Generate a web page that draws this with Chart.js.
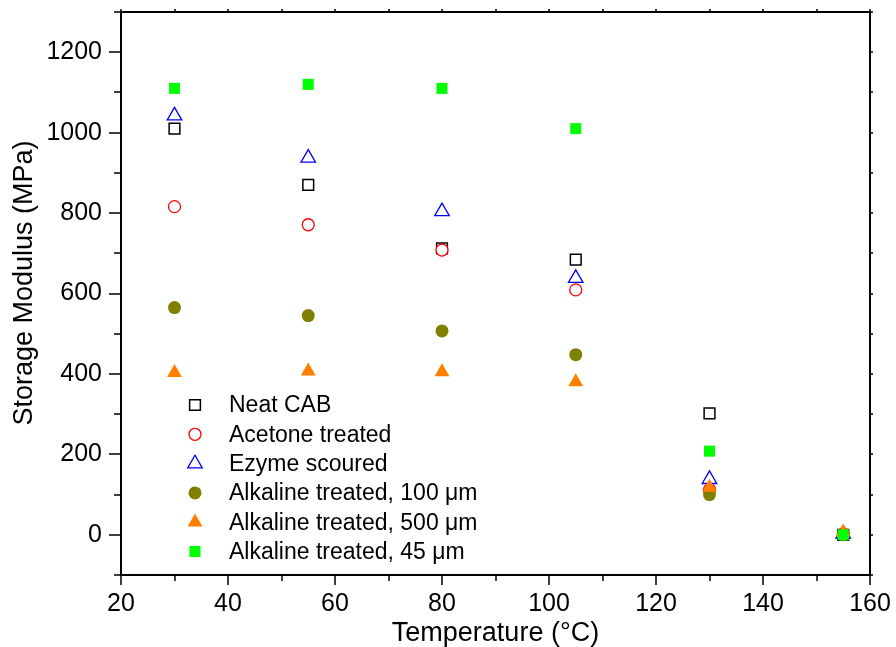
<!DOCTYPE html>
<html lang="en">
<head>
<meta charset="UTF-8">
<title>Storage Modulus vs Temperature</title>
<script src="https://cdn.jsdelivr.net/npm/chart.js@4"></script>
<style>
  html, body { margin:0; padding:0; background:#fff; }
  #wrap { width:896px; height:647px; position:relative; }
</style>
</head>
<body>
<div id="wrap"><canvas id="chart"></canvas></div>
<script>
// values
const temperatures   = [30, 55, 80, 105, 130, 155];
const neatCAB        = [1010, 870, 712, 684, 302, 0];
const acetoneTreated = [816, 771, 708, 609, 112, 2];
const ezymeScoured   = [1042, 937, 804, 638, 138, 2];
const alkaline100    = [565, 545, 507, 448, 100, 0];
const alkaline500    = [403, 407, 405, 380, 118, 6];
const alkaline45     = [1110, 1120, 1110, 1010, 208, 0];

const seriesNames = [
  'Neat CAB', 'Acetone treated', 'Ezyme scoured',
  'Alkaline treated, 100 \u03BCm', 'Alkaline treated, 500 \u03BCm', 'Alkaline treated, 45 \u03BCm'
];
const xTicks = [20, 40, 60, 80, 100, 120, 140, 160];
const yTicks = [0, 200, 400, 600, 800, 1000, 1200];

const FONT = '"Liberation Sans", Arial, sans-serif';

// marker styles per series (Origin-like)
const styles = [
  { pointStyle: 'rect',     color: '#000000', fill: '#ffffff', radius: 7.6, bw: 1.5 },
  { pointStyle: 'circle',   color: '#ff0000', fill: '#ffffff', radius: 6.0, bw: 1.3 },
  { pointStyle: 'triangle', color: '#0000ff', fill: '#ffffff', radius: 8.4, bw: 1.3 },
  { pointStyle: 'circle',   color: '#808000', fill: '#808000', radius: 6.5, bw: 0 },
  { pointStyle: 'triangle', color: '#ff8000', fill: '#ff8000', radius: 8.6, bw: 0 },
  { pointStyle: 'rect',     color: '#00ff00', fill: '#00ff00', radius: 7.8, bw: 0 }
];
const seriesValues = [neatCAB, acetoneTreated, ezymeScoured, alkaline100, alkaline500, alkaline45];

const datasets = seriesValues.map((vals, i) => ({
  label: seriesNames[i],
  data: temperatures.map((t, j) => ({ x: t, y: vals[j] })),
  pointStyle: styles[i].pointStyle,
  pointRadius: styles[i].radius,
  pointHoverRadius: styles[i].radius,
  pointBorderWidth: styles[i].bw,
  borderColor: styles[i].color,
  backgroundColor: styles[i].fill,
  pointBackgroundColor: styles[i].fill,
  pointBorderColor: styles[i].color,
  showLine: false,
  order: seriesValues.length - i   // later series drawn on top
}));

// frame, minor ticks, axis titles and in-plot legend
const framePlugin = {
  id: 'frame',
  afterDraw(chart) {
    const { ctx, chartArea: a, scales: { x, y } } = chart;
    ctx.save();
    ctx.strokeStyle = '#000';
    ctx.lineWidth = 2;
    ctx.strokeRect(a.left, a.top, a.right - a.left, a.bottom - a.top);

    ctx.lineWidth = 1.5;
    ctx.beginPath();
    for (let v = 20; v <= 160; v += 10) {
      const px = Math.round(x.getPixelForValue(v));
      const len = v % 20 === 0 ? 10 : 6;
      ctx.moveTo(px, a.bottom); ctx.lineTo(px, a.bottom + len);
      ctx.moveTo(px, a.top); ctx.lineTo(px, a.top - 3);
    }
    for (let v = -100; v <= 1300; v += 100) {
      const py = Math.round(y.getPixelForValue(v));
      const len = v % 200 === 0 ? 12 : 7;
      ctx.moveTo(a.left, py); ctx.lineTo(a.left - len, py);
      ctx.moveTo(a.right, py); ctx.lineTo(a.right + 3, py);
    }
    ctx.stroke();

    // axis titles
    ctx.fillStyle = '#000';
    ctx.font = '27px ' + FONT;
    ctx.textAlign = 'center';
    ctx.textBaseline = 'alphabetic';
    ctx.fillText('Temperature (\u00B0C)', (a.left + a.right) / 2, 641);
    ctx.save();
    ctx.translate(25, 283);
    ctx.rotate(-Math.PI / 2);
    ctx.textBaseline = 'middle';
    ctx.fillText('Storage Modulus (MPa)', 0, 0);
    ctx.restore();

    // legend inside the plot
    ctx.font = '23px ' + FONT;
    ctx.textAlign = 'left';
    ctx.textBaseline = 'middle';
    chart.data.datasets.forEach((ds, i) => {
      const cy = a.top + 393 + i * 29.3;
      const cx = a.left + 74;
      ctx.fillStyle = ds.pointBackgroundColor;
      ctx.strokeStyle = ds.pointBorderColor;
      ctx.lineWidth = ds.pointBorderWidth;
      Chart.helpers.drawPoint(ctx, {
        pointStyle: ds.pointStyle, radius: ds.pointRadius,
        borderWidth: ds.pointBorderWidth, rotation: 0
      }, cx, cy);
      ctx.fillStyle = '#000';
      ctx.fillText(ds.label, a.left + 108, cy + 1);
    });
    ctx.restore();
  }
};

new Chart(document.getElementById('chart'), {
  type: 'scatter',
  data: { datasets },
  options: {
    responsive: true,
    maintainAspectRatio: false,
    animation: false,
    layout: { padding: { top: 12, right: 26, left: 0, bottom: 0 } },
    scales: {
      x: {
        type: 'linear', min: 20, max: 160,
        afterBuildTicks: s => { s.ticks = xTicks.map(v => ({ value: v })); },
        afterFit: s => { s.height = 72; s.paddingLeft = 0; s.paddingRight = 0; },
        grid: { display: false, drawTicks: false },
        border: { display: false },
        ticks: { color: '#000', padding: 14, font: { family: FONT, size: 25 }, callback: v => String(v) }
      },
      y: {
        type: 'linear', min: -100, max: 1300,
        afterBuildTicks: s => { s.ticks = yTicks.map(v => ({ value: v })); },
        afterFit: s => { s.width = 121; s.paddingTop = 0; s.paddingBottom = 0; },
        grid: { display: false, drawTicks: false },
        border: { display: false },
        ticks: { color: '#000', padding: 19, font: { family: FONT, size: 25 }, callback: v => String(v) }
      }
    },
    plugins: {
      legend: { display: false },
      tooltip: { enabled: false }
    }
  },
  plugins: [framePlugin]
});
</script>
</body>
</html>
